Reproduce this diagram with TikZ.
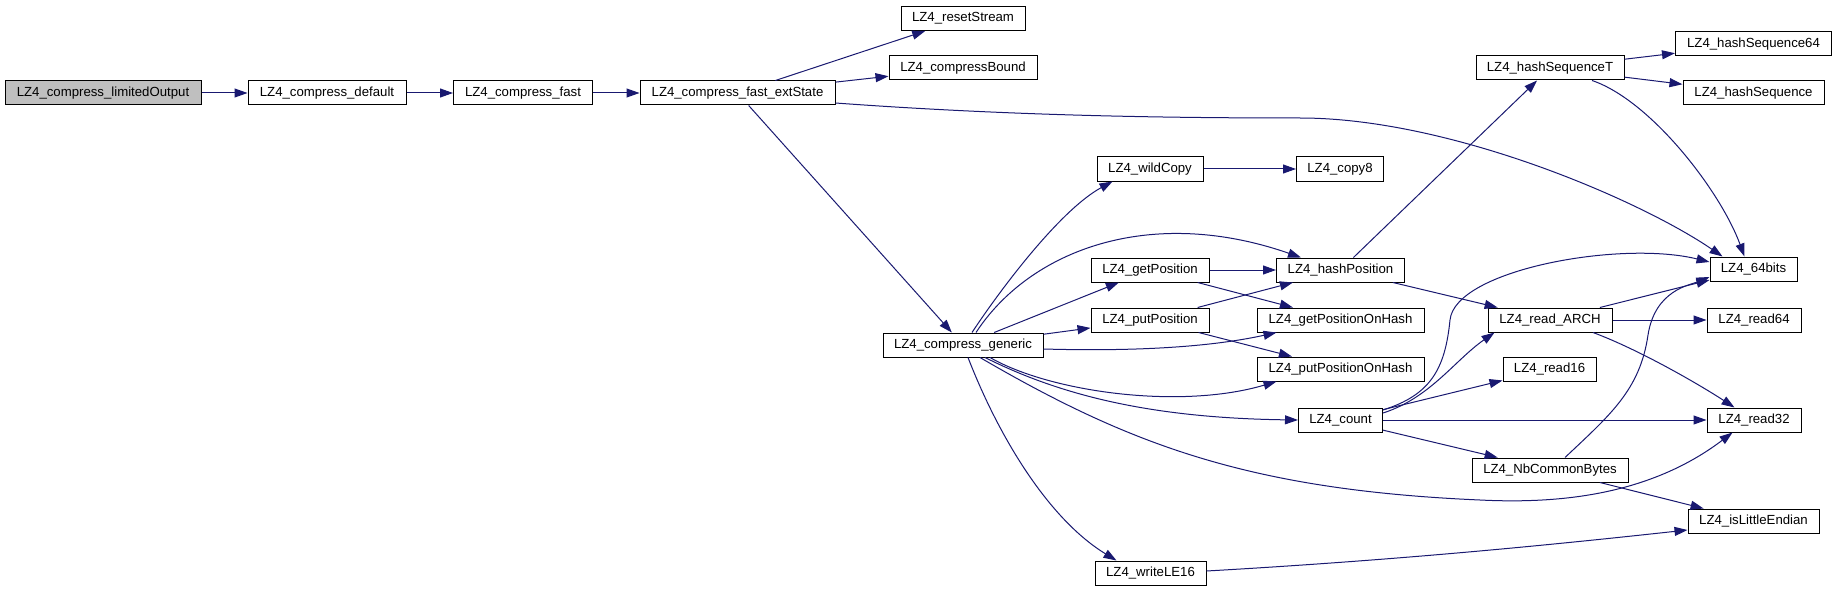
\documentclass[tikz,border=0pt]{standalone}
\usepackage{fontspec}
\setmainfont{Liberation Sans}
\usetikzlibrary{arrows.meta}
\definecolor{callblue}{HTML}{191970}
\definecolor{rootfill}{HTML}{BFBFBF}
\definecolor{boxline}{HTML}{000000}

\begin{document}
\begin{tikzpicture}[x=1pt,y=1pt,>={Triangle[length=13pt,width=9pt]},font=\fontsize{13.2}{15}\selectfont,
  fn/.style={draw=boxline,fill=white,line width=1pt,minimum height=24pt,inner sep=0pt},
  root/.style={fn,fill=rootfill},
  call/.style={->,draw=callblue,line width=1pt}]
\useasboundingbox (0,0) rectangle (1837,-591);
% entry chain
\node[root,minimum width=196pt] (lo) at (103,-93) {LZ4\_compress\_limitedOutput};
\node[fn,minimum width=158pt] (def) at (327,-93) {LZ4\_compress\_default};
\node[fn,minimum width=139pt] (fast) at (523,-93) {LZ4\_compress\_fast};
\node[fn,minimum width=195pt] (ext) at (737.5,-93) {LZ4\_compress\_fast\_extState};
\node[fn,minimum width=124pt] (reset) at (963,-18.5) {LZ4\_resetStream};
\node[fn,minimum width=148pt] (bound) at (963,-68) {LZ4\_compressBound};
\node[fn,minimum width=160pt] (gen) at (963,-345) {LZ4\_compress\_generic};
% callees of the generic compressor
\node[fn,minimum width=106pt] (wild) at (1150,-169) {LZ4\_wildCopy};
\node[fn,minimum width=87pt] (copy8) at (1340,-169) {LZ4\_copy8};
\node[fn,minimum width=118pt] (getp) at (1150,-270) {LZ4\_getPosition};
\node[fn,minimum width=118pt] (putp) at (1150,-320) {LZ4\_putPosition};
\node[fn,minimum width=128pt] (hashp) at (1340.5,-270) {LZ4\_hashPosition};
\node[fn,minimum width=167pt] (getoh) at (1340.5,-320) {LZ4\_getPositionOnHash};
\node[fn,minimum width=167pt] (putoh) at (1340.5,-369) {LZ4\_putPositionOnHash};
\node[fn,minimum width=84pt] (count) at (1340.5,-420) {LZ4\_count};
\node[fn,minimum width=111pt] (wle) at (1150.5,-573) {LZ4\_writeLE16};
% right columns
\node[fn,minimum width=148pt] (hst) at (1550,-68) {LZ4\_hashSequenceT};
\node[fn,minimum width=156pt] (hs64) at (1753.5,-44) {LZ4\_hashSequence64};
\node[fn,minimum width=141pt] (hs) at (1753.5,-93) {LZ4\_hashSequence};
\node[fn,minimum width=124pt] (arch) at (1550,-320) {LZ4\_read\_ARCH};
\node[fn,minimum width=93pt] (r16) at (1549.5,-369) {LZ4\_read16};
\node[fn,minimum width=156pt] (nb) at (1550,-470) {LZ4\_NbCommonBytes};
\node[fn,minimum width=87pt] (b64) at (1753.5,-269) {LZ4\_64bits};
\node[fn,minimum width=94pt] (r64) at (1754,-320) {LZ4\_read64};
\node[fn,minimum width=94pt] (r32) at (1754,-420) {LZ4\_read32};
\node[fn,minimum width=131pt] (le) at (1753.5,-521) {LZ4\_isLittleEndian};
% calls
\draw[call] (lo)--(def);
\draw[call] (def)--(fast);
\draw[call] (fast)--(ext);
\draw[call] (ext)--(reset);
\draw[call] (ext)--(bound);
\draw[call] (ext)--(gen);
\draw[call] ([yshift=-10pt]ext.east) .. controls (1000,-115) and (1150,-118) .. (1300,-118) .. controls (1450,-118) and (1640,-200) .. ([xshift=13pt]b64.north west);
\draw[call] ([xshift=9pt]gen.north) .. controls (1000,-290) and (1060,-210) .. ([xshift=16pt]wild.south west);
\draw[call] (wild)--(copy8);
\draw[call] ([xshift=13pt]gen.north) .. controls (1030,-250) and (1150,-205) .. ([xshift=25pt]hashp.north west);
\draw[call] (gen)--(getp);
\draw[call] (gen)--(putp);
\draw[call] ([yshift=-4pt]gen.east) .. controls (1150,-352) and (1220,-345) .. ([xshift=20pt]getoh.south west);
\draw[call] ([xshift=27pt]gen.south) .. controls (1050,-392) and (1180,-410) .. ([xshift=20pt]putoh.south west);
\draw[call] ([xshift=22pt]gen.south) .. controls (1060,-395) and (1150,-418) .. (count.west);
\draw[call] ([xshift=17pt]gen.south) .. controls (1130,-445) and (1250,-490) .. (1480,-500) .. controls (1560,-504) and (1650,-495) .. ([xshift=26pt]r32.south west);
\draw[call] ([xshift=5pt]gen.south) .. controls (1000,-440) and (1050,-520) .. ([xshift=22pt]wle.north west);
\draw[call] (getp)--(hashp);
\draw[call] (getp)--(getoh);
\draw[call] (putp)--(hashp);
\draw[call] (putp)--(putoh);
\draw[call] (hashp)--(hst);
\draw[call] (hashp)--(arch);
\draw[call] (hst)--(hs64);
\draw[call] (hst)--(hs);
\draw[call] ([xshift=42pt]hst.south) .. controls (1650,-100) and (1720,-190) .. ([xshift=35pt]b64.north west);
\draw[call] ([yshift=10pt]count.east) .. controls (1430,-395) and (1445,-370) .. (1450,-320) .. controls (1455,-270) and (1620,-240) .. ([yshift=7pt]b64.west);
\draw[call] ([yshift=7pt]count.east) .. controls (1430,-398) and (1455,-360) .. ([xshift=7pt]arch.south west);
\draw[call] (count)--(r16);
\draw[call] (count)--(r32);
\draw[call] (count)--(nb);
\draw[call] (arch)--(b64);
\draw[call] (arch)--(r64);
\draw[call] ([xshift=43pt]arch.south) .. controls (1640,-350) and (1700,-385) .. ([xshift=28pt]r32.north west);
\draw[call] ([xshift=15pt]nb.north) .. controls (1610,-415) and (1640,-390) .. (1648,-335) .. controls (1655,-290) and (1690,-285) .. ([yshift=-8pt]b64.west);
\draw[call] (nb)--(le);
\draw[call] ([yshift=2pt]wle.east) .. controls (1400,-560) and (1550,-545) .. ([yshift=-9pt]le.west);
\end{tikzpicture}
\end{document}
